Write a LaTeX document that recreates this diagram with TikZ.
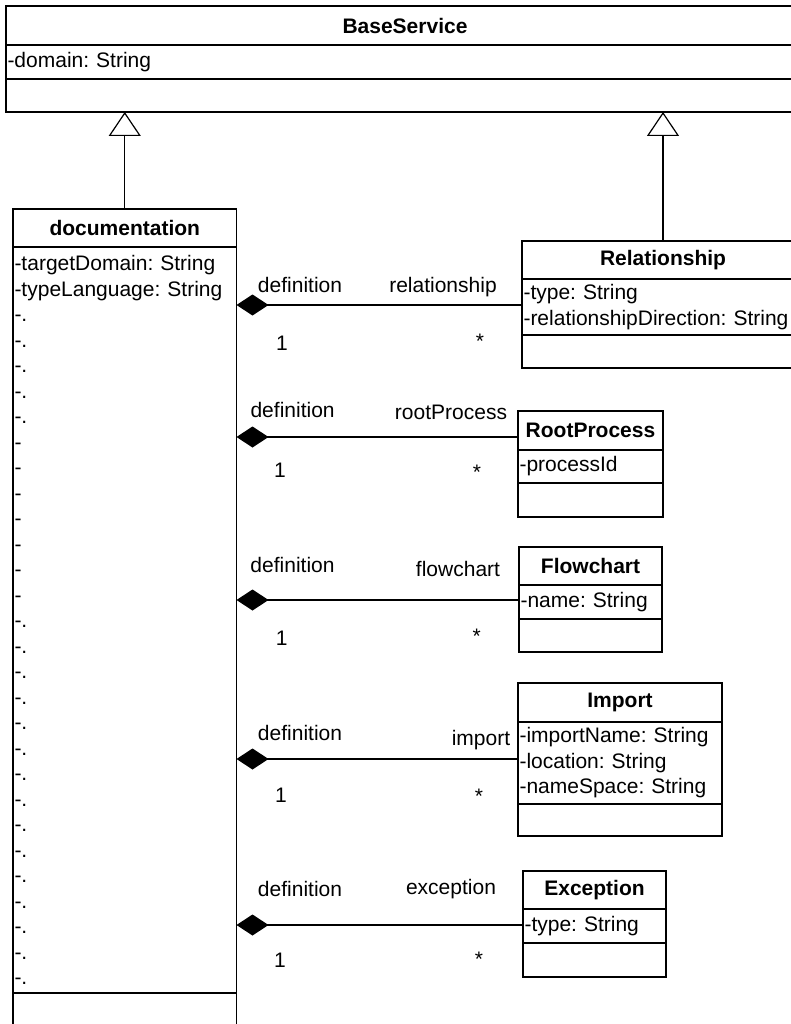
\documentclass[tikz,border=0pt]{standalone}
\usepackage{fontspec}
\setmainfont{Liberation Sans}
\usetikzlibrary{arrows.meta}
\newcommand\umlfont{\frenchspacing\fontsize{21}{25.5}\selectfont}

\begin{document}
\begin{tikzpicture}[x=1pt,y=-1pt,
  box/.style={draw, line width=1.6pt, inner sep=0pt, outer sep=0pt, anchor=north west, font=\umlfont},
  head/.style={box, font=\umlfont\bfseries, align=center},
  attr/.style={box, inner xsep=1.5pt, align=left},
  ops/.style={box},
  assoc/.style={line width=1.2pt, {Diamond[length=32pt,width=21pt]}-},
  inherit/.style={line width=1.2pt, -{Triangle[open, fill=white, length=24pt, width=32pt]}},
  lbl/.style={font=\umlfont, inner sep=0pt}]

\useasboundingbox (0,0) rectangle (791,1024);
\fill[white] (0,0) rectangle (791,1024);
\clip (0,0) rectangle (791,1024);

% BaseService
\node[head, minimum width=798pt, minimum height=39pt] (bs-h) at (6,6) {BaseService};
\node[attr, minimum width=798pt, minimum height=34pt, text width=795pt] (bs-a) at (bs-h.south west) {-domain: String};
\node[ops, minimum width=798pt, minimum height=33pt] (bs-o) at (bs-a.south west) {};

% documentation
\node[head, minimum width=223.5pt, minimum height=38pt] (doc-h) at (13,209) {documentation};
\node[attr, minimum width=223.5pt, minimum height=746pt, text width=220.5pt] (doc-a) at (doc-h.south west)
  {-targetDomain: String\\-typeLanguage: String\\
   -.\\-.\\-.\\-.\\-.\\
   -\\-\\-\\-\\-\\-\\-\\
   -.\\-.\\-.\\-.\\-.\\-.\\-.\\-.\\-.\\-.\\-.\\-.\\-.\\-.\\-.};
\node[ops, minimum width=223.5pt, minimum height=60pt] (doc-o) at (doc-a.south west) {};

% Relationship
\node[head, minimum width=282pt, minimum height=38pt] (rel-h) at (522,241) {Relationship};
\node[attr, minimum width=282pt, minimum height=56pt, text width=279pt] (rel-a) at (rel-h.south west)
  {-type: String\\-relationshipDirection: String};
\node[ops, minimum width=282pt, minimum height=33pt] (rel-o) at (rel-a.south west) {};

% RootProcess
\node[head, minimum width=145pt, minimum height=39pt] (rp-h) at (518,411) {RootProcess};
\node[attr, minimum width=145pt, minimum height=33pt, text width=142pt] (rp-a) at (rp-h.south west) {-processId};
\node[ops, minimum width=145pt, minimum height=34pt] (rp-o) at (rp-a.south west) {};

% Flowchart
\node[head, minimum width=143pt, minimum height=38pt] (fc-h) at (519,547) {Flowchart};
\node[attr, minimum width=143pt, minimum height=34pt, text width=140pt] (fc-a) at (fc-h.south west) {-name: String};
\node[ops, minimum width=143pt, minimum height=33pt] (fc-o) at (fc-a.south west) {};

% Import
\node[head, minimum width=204pt, minimum height=39pt] (im-h) at (518,683) {Import};
\node[attr, minimum width=204pt, minimum height=82pt, text width=201pt] (im-a) at (im-h.south west)
  {-importName: String\\-location: String\\-nameSpace: String};
\node[ops, minimum width=204pt, minimum height=32pt] (im-o) at (im-a.south west) {};

% Exception
\node[head, minimum width=143pt, minimum height=38pt] (ex-h) at (523,871) {Exception};
\node[attr, minimum width=143pt, minimum height=34pt, text width=140pt] (ex-a) at (ex-h.south west) {-type: String};
\node[ops, minimum width=143pt, minimum height=34pt] (ex-o) at (ex-a.south west) {};

% generalisation
\draw[inherit] (doc-h.north) -- (doc-h.north |- bs-o.south);
\draw[inherit] (rel-h.north) -- (rel-h.north |- bs-o.south);

% composition ends on the documentation class
\coordinate (j1) at (doc-a.east |- 0,305);
\coordinate (j2) at (doc-a.east |- 0,437);
\coordinate (j3) at (doc-a.east |- 0,600);
\coordinate (j4) at (doc-a.east |- 0,759);
\coordinate (j5) at (doc-a.east |- 0,925);

\draw[assoc] (j1) -- (rel-a.west |- j1);
\draw[assoc] (j2) -- (rp-h.west |- j2);
\draw[assoc] (j3) -- (fc-a.west |- j3);
\draw[assoc] (j4) -- (im-a.west |- j4);
\draw[assoc] (j5) -- (ex-a.west |- j5);

% role names and multiplicities
\node[lbl] (def1) at (300,285) {definition};
\node[lbl] (role1) at (443,287) {relationship};
\node[lbl] (m1) at (282,343) {1};
\node[lbl] (s1) at (480,341.6) {*};

\node[lbl] (def2) at (292.6,410) {definition};
\node[lbl] (role2) at (451,412) {rootProcess};
\node[lbl] (m2) at (280,470) {1};
\node[lbl] (s2) at (477,472.6) {*};

\node[lbl] (def3) at (292.5,565) {definition};
\node[lbl] (role3) at (458,569) {flowchart};
\node[lbl] (m3) at (281.7,638) {1};
\node[lbl] (s3) at (476.7,636.6) {*};

\node[lbl] (def4) at (300,733) {definition};
\node[lbl] (role4) at (481,740) {import};
\node[lbl] (m4) at (281,795) {1};
\node[lbl] (s4) at (479,796.6) {*};

\node[lbl] (def5) at (300,889) {definition};
\node[lbl] (role5) at (451,889) {exception};
\node[lbl] (m5) at (280,960) {1};
\node[lbl] (s5) at (479,959.6) {*};
\end{tikzpicture}
\end{document}
